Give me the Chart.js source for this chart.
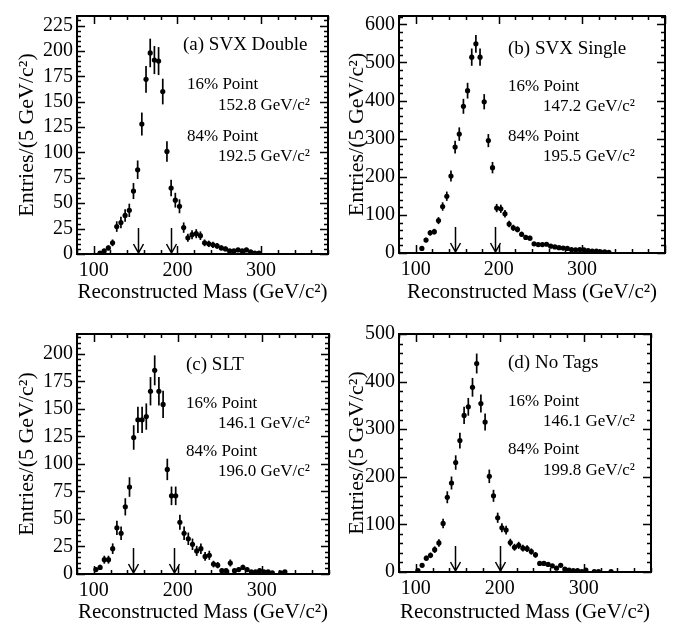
<!DOCTYPE html>
<html>
<head>
<meta charset="utf-8">
<script src="https://cdn.jsdelivr.net/npm/chart.js@4/dist/chart.umd.min.js"></script>
<style>
  body{margin:0;background:#fff;width:680px;height:635px;position:relative;overflow:hidden}
  canvas{position:absolute;display:block}
</style>
</head>
<body>
<canvas id="pa" width="340" height="318" style="left:0;top:0"></canvas>
<canvas id="pb" width="340" height="318" style="left:340px;top:0"></canvas>
<canvas id="pc" width="340" height="317" style="left:0;top:318px"></canvas>
<canvas id="pd" width="340" height="317" style="left:340px;top:318px"></canvas>
<script>
// Data: 5 GeV bins, entries per bin
const massBins = [102.5,107.5,112.5,117.5,122.5,127.5,132.5,137.5,142.5,147.5,
  152.5,157.5,162.5,167.5,172.5,177.5,182.5,187.5,192.5,197.5,
  202.5,207.5,212.5,217.5,222.5,227.5,232.5,237.5,242.5,247.5,
  252.5,257.5,262.5,267.5,272.5,277.5,282.5,287.5,292.5,297.5,
  302.5,307.5,312.5,317.5,322.5,327.5,332.5,337.5,342.5,347.5];

const svxDouble = [null,1,3,6,11, 27,31,38,43,62, 83,128,172,198,191, 190,160,101,65,53,
  47,26,16,19,20, 18,11,10,9,8, 6,5,3,3,4, 3,4,2,1,1];
const svxSingle = [null,12,34,53,56, 85,122,149,202,278, 312,385,426,514,549, 514,397,295,224,118,
  116,103,76,66,62, 49,41,39,24,22, 22,23,18,16,14, 13,12,9,8,9, 8,6,5,5,3, 3,2];
const slt = [4,6,13,13,23, 42,37,61,79,124, 140,140,143,166,185, 166,154,95,71,71,
  47,37,32,27,21, 23,16,17,9,8, 3,3,10,3,4, 6,4,2,2,3, 2,2,1,null,1, 2];
const noTags = [3,14,29,35,47, 61,102,157,187,230, 276,329,347,388,438, 354,315,201,160,114,
  93,88,62,52,56, 50,49,43,36,18, 18,16,13,8,14, 6,4,3,3,1, 4,null,1,1,null, null,1];

const panelTitles = ["(a) SVX Double","(b) SVX Single","(c) SLT","(d) No Tags"];
const points16 = [152.8, 147.2, 146.1, 146.1];
const points84 = [192.5, 195.5, 196.0, 199.8];

const xTicks = [100, 200, 300];
const yTicksA = [0,25,50,75,100,125,150,175,200,225];
const yTicksB = [0,100,200,300,400,500,600];
const yTicksC = [0,25,50,75,100,125,150,175,200];
const yTicksD = [0,100,200,300,400,500];

const SERIF = "'Liberation Serif','Times New Roman',serif";

// frame, inward ticks on all sides, error bars, arrows, notes
const decor = {
  id: 'decor',
  beforeDatasetsDraw(chart, args, o){
    const {ctx, scales:{x, y}} = chart;
    ctx.save();
    ctx.strokeStyle = '#000'; ctx.lineWidth = 1.7;
    chart.data.datasets[0].data.forEach(p=>{
      const e = Math.sqrt(p.y); // poisson error bar
      const px = x.getPixelForValue(p.x);
      ctx.beginPath();
      ctx.moveTo(px, y.getPixelForValue(Math.max(p.y - e, 0)));
      ctx.lineTo(px, y.getPixelForValue(Math.min(p.y + e, y.max)));
      ctx.stroke();
    });
    ctx.restore();
  },
  afterDraw(chart, args, o){
    const {ctx, chartArea:a, scales:{x, y}} = chart;
    ctx.save();
    ctx.strokeStyle = '#000'; ctx.fillStyle = '#000';
    ctx.lineWidth = 2;
    ctx.strokeRect(a.left, a.top, a.right - a.left, a.bottom - a.top);

    ctx.lineWidth = 1.5;
    ctx.beginPath();
    for(let v = x.min; v <= x.max + 0.01; v += o.xMinor){
      const px = Math.round(x.getPixelForValue(v)) + 0.5;
      const len = (Math.abs(v % o.xMajor) < 0.01) ? 8 : 4;
      ctx.moveTo(px, a.bottom); ctx.lineTo(px, a.bottom - len);
      ctx.moveTo(px, a.top); ctx.lineTo(px, a.top + len);
    }
    for(let v = 0; v <= y.max + 0.01; v += o.yMinor){
      const py = Math.round(y.getPixelForValue(v)) + 0.5;
      const len = (Math.abs(v % o.yMajor) < 0.01) ? 8 : 4;
      ctx.moveTo(a.left, py); ctx.lineTo(a.left + len, py);
      ctx.moveTo(a.right, py); ctx.lineTo(a.right - len, py);
    }
    ctx.stroke();

    // arrows marking the 16% / 84% points
    ctx.lineWidth = 1.5;
    o.arrows.forEach(v=>{
      const px = Math.round(x.getPixelForValue(v)) + 0.5;
      ctx.beginPath();
      ctx.moveTo(px, a.bottom - 26); ctx.lineTo(px, a.bottom - 1);
      ctx.moveTo(px - 5, a.bottom - 10); ctx.lineTo(px, a.bottom - 1); ctx.lineTo(px + 5, a.bottom - 10);
      ctx.stroke();
    });

    ctx.textAlign = 'left'; ctx.textBaseline = 'middle';
    o.notes.forEach(n=>{
      ctx.font = n.size + 'px ' + SERIF;
      ctx.fillText(n.text, a.left + n.dx, a.top + n.dy);
    });
    ctx.restore();
  }
};

function noteList(i, pos){
  const t = [panelTitles[i], '16% Point', points16[i].toFixed(1) + ' GeV/c²',
             '84% Point', points84[i].toFixed(1) + ' GeV/c²'];
  return t.map((text, k)=>({text, dx: pos[k][0], dy: pos[k][1], size: k === 0 ? 19 : 17}));
}

function makePanel(id, counts, i, cfg){
  const pts = counts.map((v, k)=>({x: massBins[k], y: v})).filter(p=>p.y != null);
  return new Chart(document.getElementById(id), {
    type: 'scatter',
    data: {datasets: [{data: pts, pointRadius: 2.6, pointBackgroundColor: '#000', pointBorderWidth: 0}]},
    options: {
      responsive: false, animation: false, events: [],
      layout: {padding: cfg.pad},
      plugins: {
        legend: {display: false}, tooltip: {enabled: false},
        decor: {xMinor: 20, xMajor: 100, yMinor: cfg.yMinor, yMajor: cfg.yMajor,
                arrows: [points16[i], points84[i]], notes: noteList(i, cfg.notes)}
      },
      scales: {
        x: {
          type: 'linear', min: 80, max: cfg.xMax,
          grid: {display: false, drawTicks: false}, border: {display: false},
          ticks: {color: '#000', font: {family: SERIF, size: 20}, padding: 5, maxRotation: 0, autoSkip: false},
          afterBuildTicks: s => { s.ticks = xTicks.map(v=>({value: v})); },
          afterFit: s => { s.height = cfg.xh; },
          title: {display: true, text: 'Reconstructed Mass (GeV/c²)', color: '#000',
                  font: {family: SERIF, size: 21}, padding: {top: 0, bottom: cfg.xtPad}}
        },
        y: {
          type: 'linear', min: 0, max: cfg.yMax,
          grid: {display: false, drawTicks: false}, border: {display: false},
          ticks: {color: '#000', font: {family: SERIF, size: 20}, padding: 4, autoSkip: false},
          afterBuildTicks: s => { s.ticks = cfg.yTicks.map(v=>({value: v})); },
          afterFit: s => { s.width = cfg.yw; },
          title: {display: true, text: 'Entries/(5 GeV/c²)', color: '#000',
                  font: {family: SERIF, size: 22}, padding: {top: cfg.ytPad, bottom: 0}}
        }
      }
    },
    plugins: [decor]
  });
}

makePanel('pa', svxDouble, 0, {
  pad: {left: 0, right: 12, top: 4, bottom: 0}, xh: 64, yw: 77, xMax: 380, yMax: 234.4,
  yTicks: yTicksA, yMinor: 5, yMajor: 25, xtPad: 13, ytPad: 14,
  notes: [[106,29],[110,69],[141,90],[110,121],[141,141]]
});
makePanel('pb', svxSingle, 1, {
  pad: {left: 0, right: 15, top: 4, bottom: 0}, xh: 65, yw: 59, xMax: 400, yMax: 622,
  yTicks: yTicksB, yMinor: 20, yMajor: 100, xtPad: 13, ytPad: 4,
  notes: [[109,33],[109,71],[144,91],[109,121],[144,141]]
});
makePanel('pc', slt, 2, {
  pad: {left: 0, right: 11, top: 9, bottom: 0}, xh: 61, yw: 77, xMax: 380, yMax: 218,
  yTicks: yTicksC, yMinor: 5, yMajor: 25, xtPad: 10, ytPad: 14,
  notes: [[109,31],[109,70],[141,90],[109,118],[141,138]]
});
makePanel('pd', noTags, 3, {
  pad: {left: 0, right: 29, top: 10, bottom: 0}, xh: 63, yw: 59, xMax: 380, yMax: 500,
  yTicks: yTicksD, yMinor: 20, yMajor: 100, xtPad: 10, ytPad: 4,
  notes: [[109,29],[109,68],[144,88],[109,116],[144,137]]
});
</script>
</body>
</html>
